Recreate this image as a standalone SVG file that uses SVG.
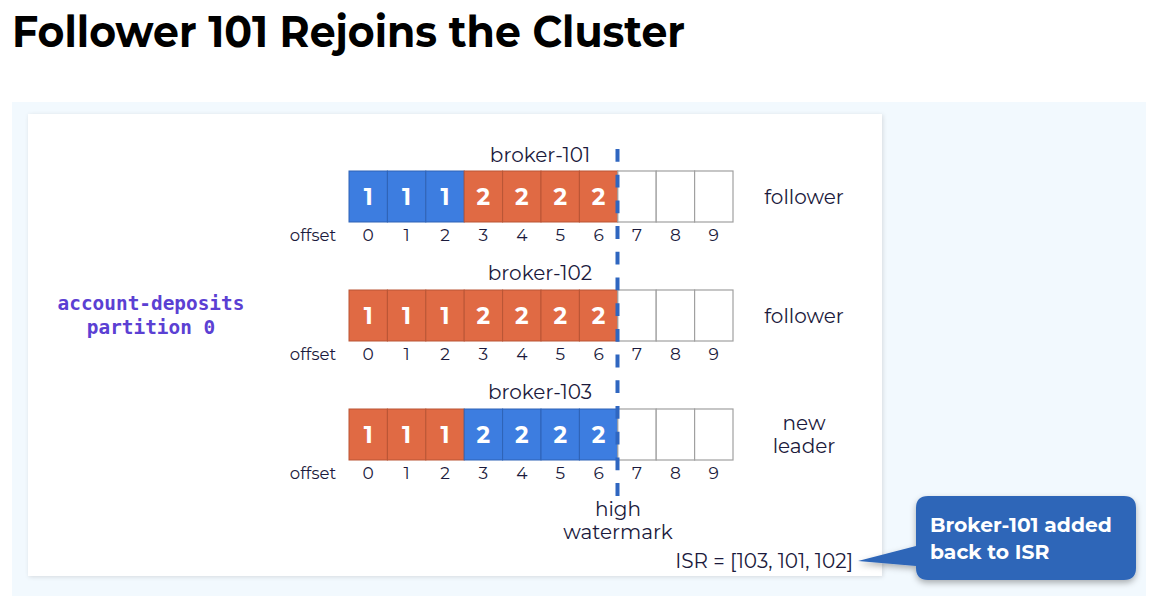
<svg xmlns="http://www.w3.org/2000/svg" width="1164" height="610" viewBox="0 0 1164 610">
<defs>
<style>
.t{font-family:"Montserrat","Open Sans","Liberation Sans",sans-serif;fill:#1b1a3c}
.lbl{font-size:20px;text-anchor:middle}
.off{font-size:17px;text-anchor:middle}
.offw{font-size:16.5px;text-anchor:middle}
.num{font-family:"Montserrat","Open Sans","Liberation Sans",sans-serif;font-weight:bold;font-size:23px;fill:#fff;text-anchor:middle}
.b{fill:#3d7de0;stroke:#2f63b5;stroke-width:1}
.o{fill:#e06a44;stroke:#b95535;stroke-width:1}
.e{fill:#fff;stroke:#a0a0a0;stroke-width:1.2}
.mono{font-family:"DejaVu Sans Mono","Liberation Mono",monospace;font-weight:bold;font-size:19.4px;fill:#5b40d3;text-anchor:middle}
</style>
<filter id="sh" x="-10%" y="-10%" width="130%" height="140%">
<feDropShadow dx="0" dy="3" stdDeviation="3" flood-color="#000" flood-opacity="0.3"/>
</filter>
<filter id="sh2" x="-5%" y="-5%" width="110%" height="110%">
<feDropShadow dx="1" dy="1" stdDeviation="2" flood-color="#000" flood-opacity="0.12"/>
</filter>
</defs>
<rect width="1164" height="610" fill="#fff"/>
<text x="12" y="47" font-family="Montserrat,'Open Sans','Liberation Sans',sans-serif" font-weight="bold" font-size="44" fill="#000" textLength="673" lengthAdjust="spacingAndGlyphs">Follower 101 Rejoins the Cluster</text>
<rect x="12" y="102" width="1134" height="494" fill="#f2f9fe"/>
<rect x="28" y="114" width="854" height="462" fill="#fff" filter="url(#sh2)"/>

<g id="partition-label">
<text class="mono" x="151" y="310">account-deposits</text>
<text class="mono" x="151" y="334">partition 0</text>
</g>

<g id="broker-101">
<text class="t lbl" x="540" y="162">broker-101</text>
<rect class="b" x="349" y="171" width="38.4" height="51"/>
<rect class="b" x="387.4" y="171" width="38.4" height="51"/>
<rect class="b" x="425.8" y="171" width="38.4" height="51"/>
<rect class="o" x="464.2" y="171" width="38.4" height="51"/>
<rect class="o" x="502.6" y="171" width="38.4" height="51"/>
<rect class="o" x="541" y="171" width="38.4" height="51"/>
<rect class="o" x="579.4" y="171" width="38.4" height="51"/>
<rect class="e" x="617.8" y="171" width="38.4" height="51"/>
<rect class="e" x="656.2" y="171" width="38.4" height="51"/>
<rect class="e" x="694.6" y="171" width="38.4" height="51"/>
<text class="num" x="368.2" y="205">1</text><text class="num" x="406.6" y="205">1</text><text class="num" x="445" y="205">1</text>
<text class="num" x="483.4" y="205">2</text><text class="num" x="521.8" y="205">2</text><text class="num" x="560.2" y="205">2</text><text class="num" x="598.6" y="205">2</text>
<text class="t offw" x="313" y="241">offset</text>
<text class="t off" x="368.2" y="241">0</text><text class="t off" x="406.6" y="241">1</text><text class="t off" x="445" y="241">2</text><text class="t off" x="483.4" y="241">3</text><text class="t off" x="521.8" y="241">4</text><text class="t off" x="560.2" y="241">5</text><text class="t off" x="598.6" y="241">6</text><text class="t off" x="637" y="241">7</text><text class="t off" x="675.4" y="241">8</text><text class="t off" x="713.8" y="241">9</text>
<text class="t lbl" x="804" y="204">follower</text>
</g>

<g id="broker-102">
<text class="t lbl" x="540" y="280">broker-102</text>
<rect class="o" x="349" y="290" width="38.4" height="51"/>
<rect class="o" x="387.4" y="290" width="38.4" height="51"/>
<rect class="o" x="425.8" y="290" width="38.4" height="51"/>
<rect class="o" x="464.2" y="290" width="38.4" height="51"/>
<rect class="o" x="502.6" y="290" width="38.4" height="51"/>
<rect class="o" x="541" y="290" width="38.4" height="51"/>
<rect class="o" x="579.4" y="290" width="38.4" height="51"/>
<rect class="e" x="617.8" y="290" width="38.4" height="51"/>
<rect class="e" x="656.2" y="290" width="38.4" height="51"/>
<rect class="e" x="694.6" y="290" width="38.4" height="51"/>
<text class="num" x="368.2" y="324">1</text><text class="num" x="406.6" y="324">1</text><text class="num" x="445" y="324">1</text>
<text class="num" x="483.4" y="324">2</text><text class="num" x="521.8" y="324">2</text><text class="num" x="560.2" y="324">2</text><text class="num" x="598.6" y="324">2</text>
<text class="t offw" x="313" y="360">offset</text>
<text class="t off" x="368.2" y="360">0</text><text class="t off" x="406.6" y="360">1</text><text class="t off" x="445" y="360">2</text><text class="t off" x="483.4" y="360">3</text><text class="t off" x="521.8" y="360">4</text><text class="t off" x="560.2" y="360">5</text><text class="t off" x="598.6" y="360">6</text><text class="t off" x="637" y="360">7</text><text class="t off" x="675.4" y="360">8</text><text class="t off" x="713.8" y="360">9</text>
<text class="t lbl" x="804" y="323">follower</text>
</g>

<g id="broker-103">
<text class="t lbl" x="540" y="399">broker-103</text>
<rect class="o" x="349" y="409" width="38.4" height="51"/>
<rect class="o" x="387.4" y="409" width="38.4" height="51"/>
<rect class="o" x="425.8" y="409" width="38.4" height="51"/>
<rect class="b" x="464.2" y="409" width="38.4" height="51"/>
<rect class="b" x="502.6" y="409" width="38.4" height="51"/>
<rect class="b" x="541" y="409" width="38.4" height="51"/>
<rect class="b" x="579.4" y="409" width="38.4" height="51"/>
<rect class="e" x="617.8" y="409" width="38.4" height="51"/>
<rect class="e" x="656.2" y="409" width="38.4" height="51"/>
<rect class="e" x="694.6" y="409" width="38.4" height="51"/>
<text class="num" x="368.2" y="443">1</text><text class="num" x="406.6" y="443">1</text><text class="num" x="445" y="443">1</text>
<text class="num" x="483.4" y="443">2</text><text class="num" x="521.8" y="443">2</text><text class="num" x="560.2" y="443">2</text><text class="num" x="598.6" y="443">2</text>
<text class="t offw" x="313" y="479">offset</text>
<text class="t off" x="368.2" y="479">0</text><text class="t off" x="406.6" y="479">1</text><text class="t off" x="445" y="479">2</text><text class="t off" x="483.4" y="479">3</text><text class="t off" x="521.8" y="479">4</text><text class="t off" x="560.2" y="479">5</text><text class="t off" x="598.6" y="479">6</text><text class="t off" x="637" y="479">7</text><text class="t off" x="675.4" y="479">8</text><text class="t off" x="713.8" y="479">9</text>
<text class="t lbl" x="804" y="430">new</text>
<text class="t lbl" x="804" y="453">leader</text>
</g>

<g id="connectors">
<line x1="617.5" y1="149" x2="617.5" y2="496" stroke="#2f66c0" stroke-width="4" stroke-dasharray="12.8 12.9"/>
</g>

<g id="high-watermark">
<text class="t lbl" x="618" y="516">high</text>
<text class="t lbl" x="618" y="539">watermark</text>
</g>

<g id="isr">
<text class="t" x="853" y="568" font-size="20" text-anchor="end">ISR = [103, 101, 102]</text>
</g>

<g id="callout" filter="url(#sh)">
<path d="M928,496 H1124 Q1136,496 1136,508 V568 Q1136,580 1124,580 H928 Q916,580 916,568 V566 L858,561 L916,546 V508 Q916,496 928,496 Z" fill="#2e66b8"/>
</g>
<g id="callout-text">
<text x="930" y="532" font-family="Montserrat,'Open Sans','Liberation Sans',sans-serif" font-weight="bold" font-size="20.3" fill="#fff">Broker-101 added</text>
<text x="930" y="559" font-family="Montserrat,'Open Sans','Liberation Sans',sans-serif" font-weight="bold" font-size="20.3" fill="#fff">back to ISR</text>
</g>
</svg>
